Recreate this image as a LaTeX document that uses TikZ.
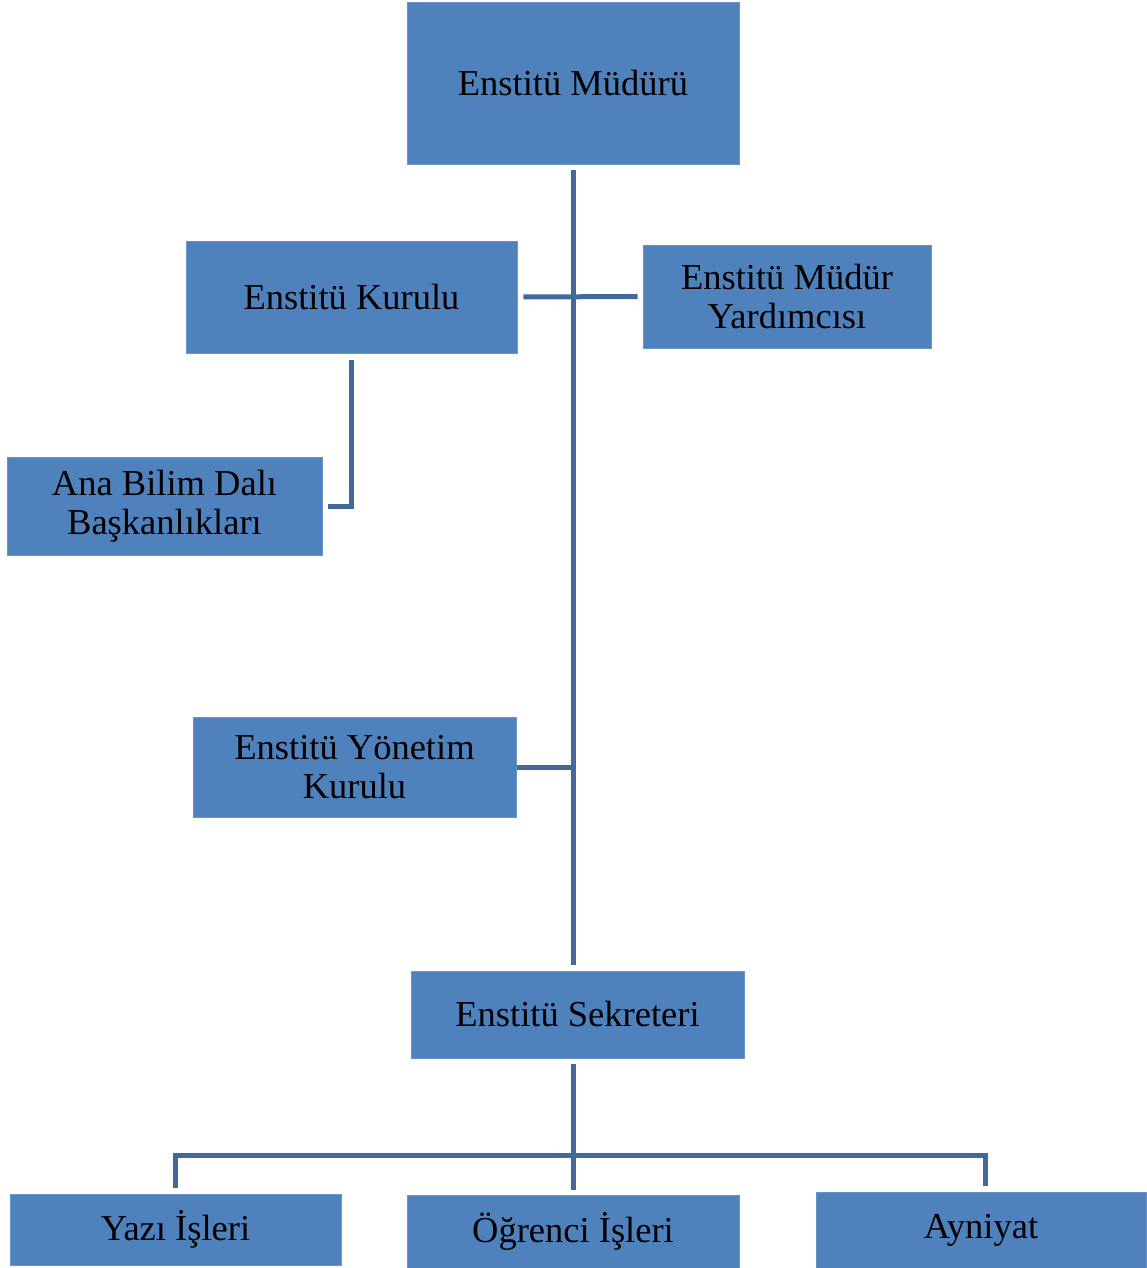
\documentclass[tikz,border=0pt]{standalone}
\usepackage{fontspec}
\setmainfont{Liberation Serif}
\definecolor{boxblue}{HTML}{4F81BD}
\definecolor{lineblue}{HTML}{41699C}
\begin{document}
\begin{tikzpicture}[x=1pt,y=-1pt,
  box/.style={fill=boxblue, draw=boxblue!85!white, line width=0.8pt, inner sep=0pt, align=center,
    font=\fontsize{36.5}{39}\selectfont, text=black},
  conn/.style={draw=lineblue, line width=5pt}]
\useasboundingbox (0,0) rectangle (1146,1268);
\node[box, minimum width=332, minimum height=162] (mudur) at (573,83) {Enstitü Müdürü};
\node[box, minimum width=331, minimum height=112] (kurulu) at (351.5,297) {Enstitü Kurulu};
\node[box, minimum width=288, minimum height=103] (yard) at (787,296.5) {Enstitü Müdür\\Yardımcısı};
\node[box, minimum width=315, minimum height=98] (abd) at (164.5,506) {Ana Bilim Dalı\\Başkanlıkları};
\node[box, minimum width=323, minimum height=100] (yonetim) at (354.5,767) {Enstitü Yönetim\\Kurulu};
\node[box, minimum width=333, minimum height=87] (sekreter) at (577.5,1014.5) {Enstitü Sekreteri};
\node[box, minimum width=331, minimum height=71] (yazi) at (175.5,1229.5) {Yazı İşleri};
\node[box, minimum width=332, minimum height=73] (ogrenci) at (573,1231.5) {Öğrenci İşleri};
\node[box, minimum width=330, minimum height=76] (ayniyat) at (981,1230) {Ayniyat};
\coordinate (bus) at (573,1155);
% trunk
\draw[conn, shorten <=6pt, shorten >=6pt] (mudur.south) -- (mudur.south |- sekreter.north);
% kurulu - yardimci
\draw[conn, shorten <=6pt, shorten >=5pt] (kurulu.east) -- (yard.west);
% kurulu - abd
\draw[conn, shorten <=7pt, shorten >=6pt] (kurulu.south) -- (kurulu.south |- abd.east) -- (abd.east);
% yonetim
\draw[conn, shorten <=1pt] (yonetim.east) -- (yonetim.east -| mudur.south);
% sekreter down
\draw[conn, shorten <=6pt, shorten >=5pt] (mudur.south |- sekreter.south) -- (ogrenci.north);
\draw[conn, shorten <=6pt, shorten >=6pt] (yazi.north) -- (yazi.north |- bus) -- ([xshift=4pt]ayniyat.north |- bus) -- ([xshift=4pt]ayniyat.north);
\end{tikzpicture}
\end{document}
